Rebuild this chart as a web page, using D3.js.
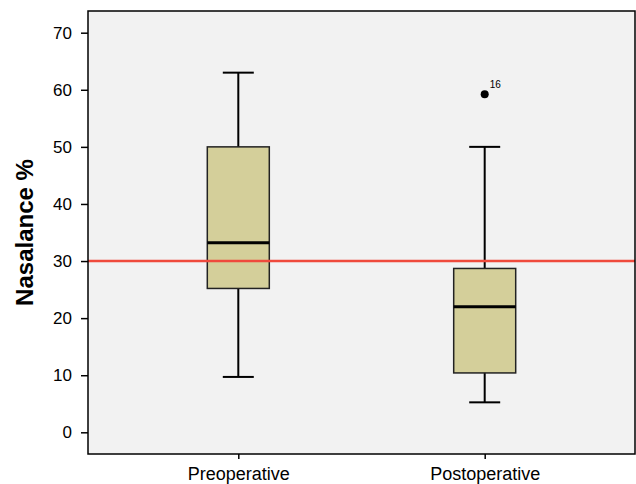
<!DOCTYPE html>
<html>
<head>
<meta charset="utf-8">
<script src="https://cdn.jsdelivr.net/npm/d3@7"></script>
<style>
  body { margin: 0; background: #fff; }
  text { font-family: "Liberation Sans", Arial, sans-serif; fill: #000; }
</style>
</head>
<body>
<div id="chart"></div>
<script>
var groups = ["Preoperative", "Postoperative"];
var whiskerLow = [9.7, 5.25];
var q1 = [25.2, 10.4];
var medians = [33.2, 22.0];
var q3 = [50, 28.7];
var whiskerHigh = [63, 50];
var outliers = [{group: "Postoperative", value: 59.2, label: "16"}];
var refValue = 30;
var yTicks = [0, 10, 20, 30, 40, 50, 60, 70];

var width = 636, height = 484;
var plotLeft = 88, plotTop = 11, plotRight = 635, plotBottom = 454;
var fontFam = "Liberation Sans, Arial, sans-serif";

var svg = d3.select("#chart").append("svg")
    .attr("width", width)
    .attr("height", height);

var x = d3.scalePoint()
    .domain(groups)
    .range([plotLeft, plotRight])
    .padding(0.61);

var y = d3.scaleLinear()
    .domain([-3.8, 73.8])
    .range([plotBottom, plotTop]);

svg.append("rect")
    .attr("x", plotLeft)
    .attr("y", plotTop)
    .attr("width", plotRight - plotLeft)
    .attr("height", plotBottom - plotTop)
    .attr("fill", "#f2f2f2");

var boxes = groups.map(function(g, i) {
  return {g: g, lo: whiskerLow[i], q1: q1[i], med: medians[i], q3: q3[i], hi: whiskerHigh[i]};
});

var boxW = 62, capW = 31;

var gBox = svg.selectAll("g.box").data(boxes).enter().append("g").attr("class", "box");

gBox.append("line")
    .attr("x1", function(d) { return x(d.g); })
    .attr("x2", function(d) { return x(d.g); })
    .attr("y1", function(d) { return y(d.lo); })
    .attr("y2", function(d) { return y(d.hi); })
    .attr("stroke", "#000").attr("stroke-width", 2);

gBox.append("line")
    .attr("x1", function(d) { return x(d.g) - capW / 2; })
    .attr("x2", function(d) { return x(d.g) + capW / 2; })
    .attr("y1", function(d) { return y(d.hi); })
    .attr("y2", function(d) { return y(d.hi); })
    .attr("stroke", "#000").attr("stroke-width", 2);

gBox.append("line")
    .attr("x1", function(d) { return x(d.g) - capW / 2; })
    .attr("x2", function(d) { return x(d.g) + capW / 2; })
    .attr("y1", function(d) { return y(d.lo); })
    .attr("y2", function(d) { return y(d.lo); })
    .attr("stroke", "#000").attr("stroke-width", 2);

gBox.append("rect")
    .attr("x", function(d) { return x(d.g) - boxW / 2; })
    .attr("y", function(d) { return y(d.q3); })
    .attr("width", boxW)
    .attr("height", function(d) { return y(d.q1) - y(d.q3); })
    .attr("fill", "#d4cf9a")
    .attr("stroke", "#222").attr("stroke-width", 1.5);

gBox.append("line")
    .attr("x1", function(d) { return x(d.g) - boxW / 2; })
    .attr("x2", function(d) { return x(d.g) + boxW / 2; })
    .attr("y1", function(d) { return y(d.med); })
    .attr("y2", function(d) { return y(d.med); })
    .attr("stroke", "#000").attr("stroke-width", 3);

// reference line
svg.append("line")
    .attr("x1", plotLeft).attr("x2", plotRight)
    .attr("y1", y(refValue)).attr("y2", y(refValue))
    .attr("stroke", "#ef4a3c").attr("stroke-width", 2.5);

svg.selectAll("circle.out").data(outliers).enter().append("circle")
    .attr("class", "out")
    .attr("cx", function(d) { return x(d.group); })
    .attr("cy", function(d) { return y(d.value); })
    .attr("r", 4)
    .attr("fill", "#000");

svg.selectAll("text.outlab").data(outliers).enter().append("text")
    .attr("class", "outlab")
    .attr("x", function(d) { return x(d.group) + 5; })
    .attr("y", function(d) { return y(d.value) - 6.5; })
    .attr("font-size", 10)
    .text(function(d) { return d.label; });

// frame
svg.append("rect")
    .attr("x", plotLeft)
    .attr("y", plotTop)
    .attr("width", plotRight - plotLeft)
    .attr("height", plotBottom - plotTop)
    .attr("fill", "none")
    .attr("stroke", "#000").attr("stroke-width", 1.5);

var yAxis = d3.axisLeft(y).tickValues(yTicks).tickSize(7).tickPadding(9);
var gy = svg.append("g")
    .attr("transform", "translate(" + plotLeft + ",0)")
    .call(yAxis);
gy.select(".domain").remove();
gy.selectAll("text").attr("font-size", 17).attr("font-family", fontFam);
gy.selectAll("line").attr("stroke-width", 1.5);

var xAxis = d3.axisBottom(x).tickSize(5).tickPadding(8);
var gx = svg.append("g")
    .attr("transform", "translate(0," + plotBottom + ")")
    .call(xAxis);
gx.select(".domain").remove();
gx.selectAll("text").attr("font-size", 18).attr("font-family", fontFam);
gx.selectAll("line").attr("stroke-width", 1.5);

svg.append("text")
    .attr("transform", "translate(33," + ((plotTop + plotBottom) / 2) + ") rotate(-90)")
    .attr("text-anchor", "middle")
    .attr("font-size", 24)
    .attr("font-weight", "bold")
    .attr("font-family", fontFam)
    .text("Nasalance %");
</script>
</body>
</html>
